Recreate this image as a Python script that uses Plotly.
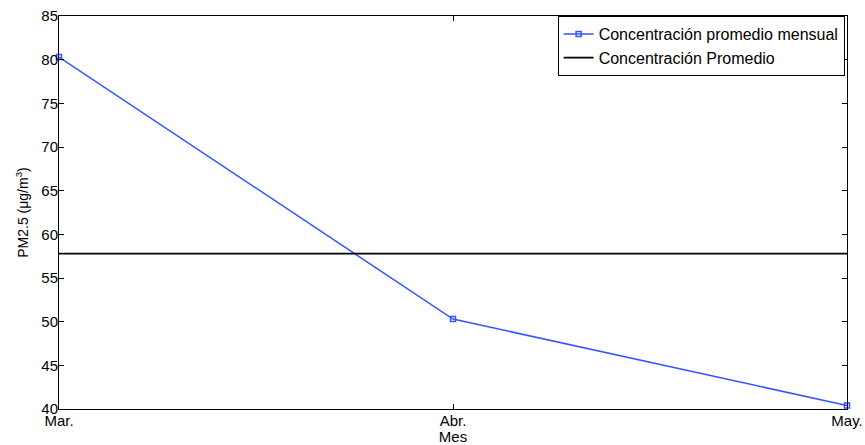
import plotly.graph_objects as go

meses = ["Mar.", "Abr.", "May."]
conc_mensual = [80.3, 50.3, 40.4]
conc_promedio = 57.8

fig = go.Figure()
fig.add_trace(go.Scatter(
    x=meses, y=conc_mensual, mode="lines+markers",
    name="Concentración promedio mensual",
    line=dict(color="#3355ff", width=1.5),
    marker=dict(symbol="square-open", size=5, color="#3355ff", line=dict(width=1.5)),
    cliponaxis=False,
))
fig.add_trace(go.Scatter(
    x=meses, y=[conc_promedio] * len(meses), mode="lines",
    name="Concentración Promedio",
    line=dict(color="black", width=1.8),
))

fig.update_layout(
    width=865, height=445,
    margin=dict(l=59, r=18, t=16, b=36),
    paper_bgcolor="white", plot_bgcolor="white",
    font=dict(family="Liberation Sans, Arial, sans-serif", size=15, color="black"),
    showlegend=True,
    legend=dict(
        x=0.997, y=1.0, xanchor="right", yanchor="top",
        bordercolor="black", borderwidth=1, bgcolor="white",
        font=dict(size=16), tracegroupgap=0,
        itemwidth=30,
    ),
)
fig.update_xaxes(
    type="category", range=[0, 2], automargin=False,
    showline=True, linecolor="black", linewidth=1, mirror="ticks",
    ticks="inside", ticklen=5, tickcolor="black", showgrid=False,
    tickfont=dict(size=15), ticklabeloverflow="allow",
    title=dict(text="Mes", standoff=0, font=dict(size=15)),
    ticklabelstandoff=-2,
)
fig.update_yaxes(
    range=[40, 85], dtick=5, automargin=False,
    showline=True, linecolor="black", linewidth=1, mirror="ticks",
    ticks="inside", ticklen=5, tickcolor="black", showgrid=False, zeroline=False,
    tickfont=dict(size=15), ticklabeloverflow="allow",
    title=dict(text="PM2.5 (μg/m<sup>3</sup>)", standoff=9, font=dict(size=14)),
    ticklabelstandoff=-3,
)

# remove the default 8px page margin so the 865x445 figure fills the window exactly
fig.write_html(
    "out.html",
    config={"displayModeBar": False},
    post_script="document.body.style.margin='0';document.body.style.overflow='hidden';",
)
